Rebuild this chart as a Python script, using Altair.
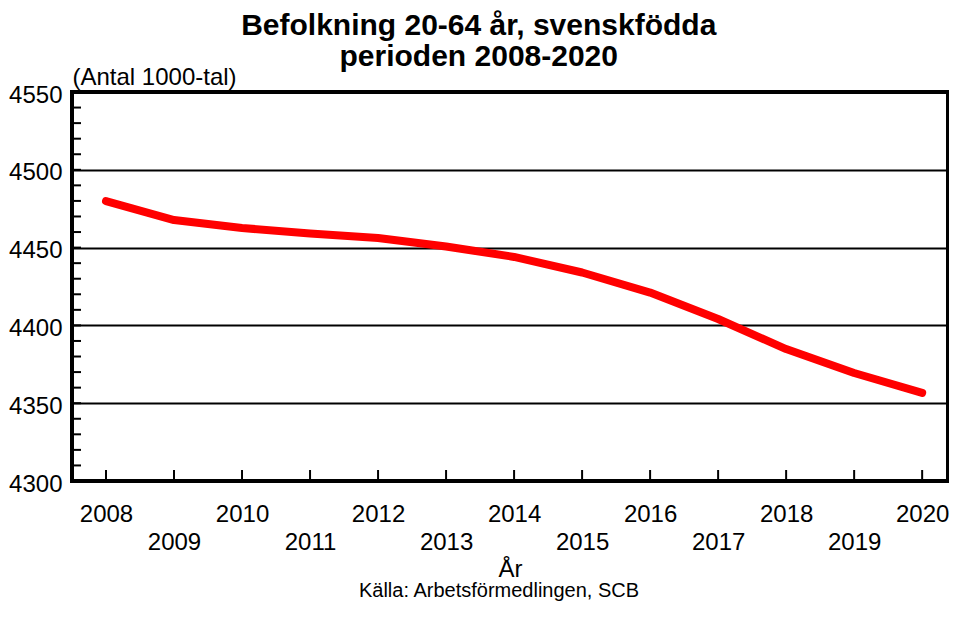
import altair as alt
import pandas as pd

# ---- data ----
years = list(range(2008, 2021))
population = [4479.9, 4467.7, 4462.6, 4459.1, 4456.2, 4450.7, 4444.0,
              4434.0, 4421.1, 4404.1, 4384.8, 4369.4, 4356.6]
y_tick_values = [4300, 4350, 4400, 4450, 4500, 4550]
y_minor_ticks = list(range(4310, 4550, 10))

title_lines = ["Befolkning 20-64 år, svenskfödda", "perioden 2008-2020"]
y_title = "(Antal 1000-tal)"
x_title = "År"
source = "Källa: Arbetsförmedlingen, SCB"

W, H = 876, 389
FONT = "Liberation Sans"

df = pd.DataFrame({"year": years, "value": population})
xscale = alt.Scale(domain=[2007.5, 2020.38], nice=False, zero=False)
yscale = alt.Scale(domain=[4300, 4550], nice=False, zero=False)

x_axis = alt.Axis(
    values=years, format="d", title=x_title, domain=False, ticks=False, grid=False,
    labelFontSize=24, labelFont=FONT, labelColor="black", labelFlush=False,
    labelOverlap=False,
    labelPadding={"condition": {"test": "datum.value % 2 == 1", "value": 49}, "value": 21},
    titleFontSize=24, titleFont=FONT, titleFontWeight="normal", titleColor="black",
    titlePadding=3)
y_axis = alt.Axis(
    values=y_tick_values, format="d", title=y_title, grid=True, gridColor="black",
    gridWidth=2, gridOpacity=1, domain=False, ticks=False, labelFontSize=24,
    labelFont=FONT, labelColor="black", labelPadding=10, labelOffset=3,
    titleAngle=0, titleAlign="left",
    titleBaseline="alphabetic", titleX=0, titleY=-8, titleFontSize=24, titleFont=FONT,
    titleFontWeight="normal", titleColor="black")

line = alt.Chart(df).mark_line(
    color="#ff0000", strokeWidth=8, strokeCap="round", strokeJoin="round"
).encode(
    x=alt.X("year:Q", scale=xscale, axis=x_axis),
    y=alt.Y("value:Q", scale=yscale, axis=y_axis),
)

y_minor = alt.Chart(pd.DataFrame({"value": y_minor_ticks})).mark_rule(
    color="black", strokeWidth=2
).encode(
    y=alt.Y("value:Q", scale=yscale, axis=y_axis),
    x=alt.value(0), x2=alt.value(9),
)

x_ticks = alt.Chart(df).mark_rule(color="black", strokeWidth=2).encode(
    x=alt.X("year:Q", scale=xscale, axis=x_axis),
    y=alt.value(H), y2=alt.value(H - 11),
)

src = alt.Chart(pd.DataFrame({"t": [source]})).mark_text(
    fontSize=20, font=FONT, color="black", baseline="middle"
).encode(text="t:N", x=alt.value(427), y=alt.value(H + 110))

chart = alt.layer(line, y_minor, x_ticks, src).properties(
    width=W, height=H,
    padding={"left": 0, "top": 3, "right": 0, "bottom": 0},
    title=alt.TitleParams(text=title_lines, fontSize=30, font=FONT, fontWeight="bold",
                          anchor="middle", frame="bounds", lineHeight=31,
                          color="black", offset=-7),
).configure_view(stroke="black", strokeWidth=4)

chart.save("out.html", embed_options={"renderer": "svg", "actions": False})
